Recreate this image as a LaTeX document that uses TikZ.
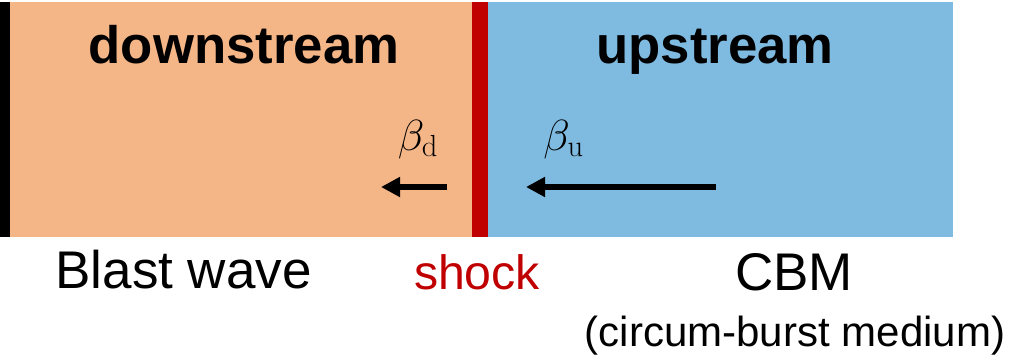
\RequirePackage{fix-cm}
\documentclass[tikz,border=0pt]{standalone}
\usepackage{fontspec}
\setsansfont{Liberation Sans}
\usepackage{amsmath}
\usetikzlibrary{arrows.meta, positioning, calc}
\usepackage{xcolor}
\definecolor{cDown}{RGB}{244, 181, 135}
\definecolor{cUp}{RGB}{127, 187, 225}
\definecolor{cShock}{RGB}{192, 0, 0}
\definecolor{tDark}{RGB}{0, 0, 0}

\begin{document}
\begin{tikzpicture}[
    font=\sffamily,
    region/.style={text=tDark, anchor=base, font=\sffamily\bfseries\fontsize{37.5}{42}\selectfont},
    label/.style={text=tDark, anchor=base, font=\sffamily\fontsize{37.7}{42}\selectfont},
    speed/.style={text=tDark, anchor=base, inner sep=0pt, font=\fontsize{31}{36}\selectfont},
    arrow/.style={-{Triangle[length=0.48cm, width=0.48cm]}, line width=4.8pt, color=tDark}
]

\useasboundingbox (0, 0) rectangle (25.25, -8.85);

% Media
\fill[tDark]  (0, -0.05) rectangle (0.25, -5.925);
\fill[cDown]  (0.25, -0.05) rectangle (11.8, -5.925);
\fill[cShock] (11.8, -0.05) rectangle (12.2, -5.925);
\fill[cUp]    (12.2, -0.05) rectangle (23.825, -5.925);

\node[region] (down) at (6.1, -1.575) {downstream};
\node[region] (up) at (17.875, -1.575) {upstream};

% Velocities
\node[speed] (betad) at (10.45, -3.75) {$\beta_{\mathrm{d}}$};
\node[speed] (betau) at (14.09, -3.75) {$\beta_{\mathrm{u}}$};

\coordinate (dtail) at (11.175, -4.675);
\coordinate (dtip) at (9.525, -4.675);
\coordinate (utail) at (17.9, -4.675);
\coordinate (utip) at (13.15, -4.675);

\draw[arrow] (dtail) -- (dtip);
\draw[arrow] (utail) -- (utip);

% Labels
\node[label] (blast) at (4.59, -7.2) {Blast wave};
\node[label, text=cShock, font=\sffamily\fontsize{34.3}{40}\selectfont] (shock) at (11.925, -7.225) {shock};
\node[label] (cbm) at (19.85, -7.26) {CBM};
\node[label, font=\sffamily\fontsize{29.9}{34}\selectfont] (cbmlong) at (19.875, -8.65) {(circum-burst medium)};

\end{tikzpicture}
\end{document}
